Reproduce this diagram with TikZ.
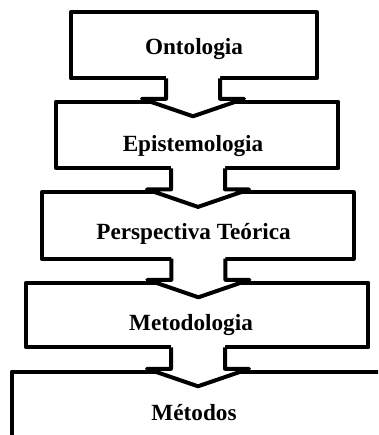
\documentclass[tikz,border=0pt]{standalone}
\usepackage{fontspec}
\setmainfont{Liberation Serif}
\usetikzlibrary{calc}

% Block arrow joining two stacked stages: #1 upper node, #2 lower node, #3 x of the arrow axis
\newcommand\flowarrow[3]{%
  \path (#3,0 |- #1.south) coordinate (ua) (#3,0 |- #2.north) coordinate (la);
  \fill[white]
    ([xshift=-27pt,yshift=2.2pt]ua) -- ([xshift=-27pt,yshift=2.9pt]la)
    -- ([xshift=-51pt,yshift=2.9pt]la) -- ([yshift=-14.6pt]la)
    -- ([xshift=51pt,yshift=2.9pt]la) -- ([xshift=27pt,yshift=2.9pt]la)
    -- ([xshift=27pt,yshift=2.2pt]ua) -- cycle;
  \draw[flowline]
    ([xshift=-27pt]ua) -- ([xshift=-27pt,yshift=2.9pt]la)
    -- ([xshift=-51pt,yshift=2.9pt]la) -- ([yshift=-14.6pt]la)
    -- ([xshift=51pt,yshift=2.9pt]la) -- ([xshift=27pt,yshift=2.9pt]la)
    -- ([xshift=27pt]ua);
}

\begin{document}
\begin{tikzpicture}[x=1pt,y=-1pt,
  stage/.style={draw=black, fill=white, line width=4pt, line join=round,
    rectangle, outer sep=0pt, inner sep=0pt},
  flowline/.style={draw=black, line width=4pt, line join=round},
  caption/.style={font=\fontsize{23.2}{28}\selectfont\bfseries,
    anchor=base, inner sep=0pt}]

  \fill[white] (0,0) rectangle (378,435);
  \clip (0,0) rectangle (378,435);

  % stages
  \node[stage, minimum width=246pt,   minimum height=66pt]   (ont) at (193.7,45.3)  {};
  \node[stage, minimum width=282.3pt, minimum height=66.6pt] (epi) at (197.15,135)  {};
  \node[stage, minimum width=312pt,   minimum height=66.4pt] (per) at (197.7,225.5) {};
  \node[stage, minimum width=342.3pt, minimum height=64.6pt] (met) at (197.15,315)  {};
  \node[stage, minimum width=372pt,   minimum height=120pt]  (mts) at (197.7,431.7) {};

  % arrows between stages
  \flowarrow{ont}{epi}{193}
  \flowarrow{epi}{per}{198}
  \flowarrow{per}{met}{198.4}
  \flowarrow{met}{mts}{198}

  % captions
  \node[caption] (ontl) at (194,55)    {Ontologia};
  \node[caption] (epil) at (193,151.5) {Epistemologia};
  \node[caption] (perl) at (193.5,239) {Perspectiva Teórica};
  \node[caption] (metl) at (191,330)   {Metodologia};
  \node[caption] (mtsl) at (194,420.7) {Métodos};
\end{tikzpicture}
\end{document}
